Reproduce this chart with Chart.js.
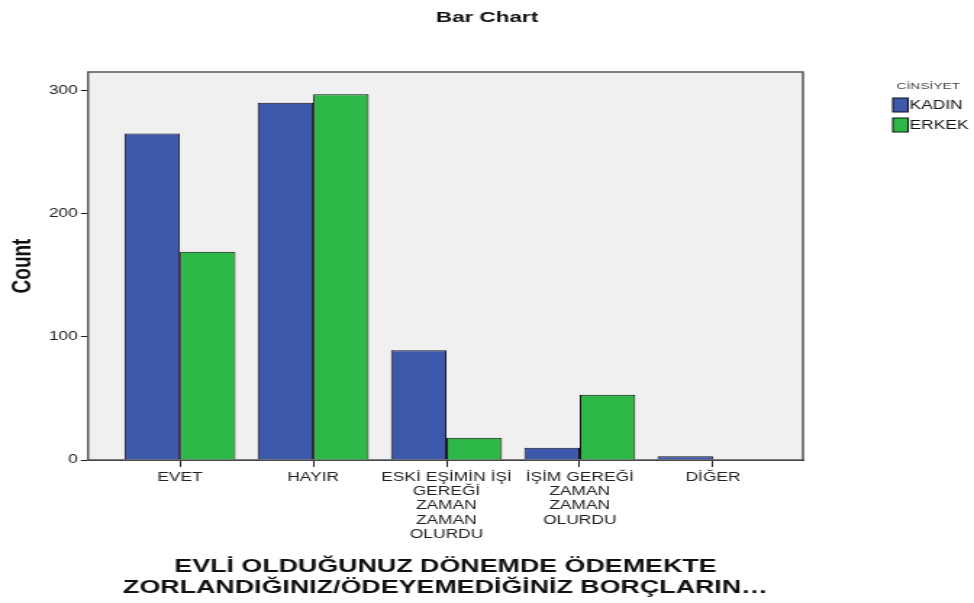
<!DOCTYPE html>
<html>
<head>
<meta charset="utf-8">
<script src="https://cdn.jsdelivr.net/npm/chart.js@4/dist/chart.umd.min.js"></script>
<style>
  html, body { margin: 0; padding: 0; background: #fff; overflow: hidden; }
  /* the reference is stretched sideways, so draw narrow and widen it */
  #wrap { width: 672px; height: 603px; transform: scaleX(1.449405); transform-origin: 0 0; }
  #chart { display: block; }
</style>
</head>
<body>
<div id="wrap"><canvas id="chart" width="672" height="603"></canvas></div>
<script>
// data
const CATEGORIES = [
  'EVET',
  'HAYIR',
  ['ESKİ EŞİMİN İŞİ', 'GEREĞİ', 'ZAMAN', 'ZAMAN', 'OLURDU'],
  ['İŞİM GEREĞİ', 'ZAMAN', 'ZAMAN', 'OLURDU'],
  'DİĞER',
];
const KADIN = [265, 290, 89, 10, 3];
const ERKEK = [169, 297, 18, 53, 0];
const Y_TICKS = [0, 100, 200, 300];
const SERIES_NAMES = ['KADIN', 'ERKEK'];
const LEGEND_TITLE = 'CİNSİYET';
const CHART_TITLE = 'Bar Chart';

const FONT = "'Liberation Sans', Arial, sans-serif";
const BLUE = '#3e58ac';
const GREEN = '#2eb848';

const toPoints = arr => arr.map((v, i) => ({ x: i, y: v }));

/* ---------- title, plot background, frame and legend ---------- */
const plotFrame = {
  id: 'plotFrame',
  beforeDraw(chart) {
    const { ctx, chartArea: a } = chart;
    ctx.save();
    ctx.fillStyle = '#f0f0f0';
    ctx.fillRect(a.left, a.top, a.right - a.left, a.bottom - a.top);
    ctx.restore();
  },
  beforeDatasetsDraw(chart) {
    const { ctx, chartArea: a } = chart;
    ctx.save();
    ctx.strokeStyle = '#555';
    ctx.lineWidth = 1.5;
    ctx.strokeRect(a.left, a.top, a.right - a.left, a.bottom - a.top);
    ctx.restore();
  },
  afterDraw(chart) {
    const ctx = chart.ctx;
    ctx.save();
    // title is centred on the whole picture, not on the plot
    ctx.fillStyle = '#111';
    ctx.font = `bold 15.5px ${FONT}`;
    ctx.textAlign = 'center';
    ctx.textBaseline = 'middle';
    ctx.fillText(CHART_TITLE, chart.width / 2, 18);

    ctx.fillStyle = '#444';
    ctx.font = `9.5px ${FONT}`;
    ctx.fillText(LEGEND_TITLE, 640.5, 86);
    ctx.textAlign = 'left';
    ctx.font = `12px ${FONT}`;
    chart.data.datasets.forEach((ds, i) => {
      const y = 98 + i * 20;
      ctx.fillStyle = ds.backgroundColor;
      ctx.fillRect(616, y, 10.5, 14);
      ctx.strokeStyle = '#111';
      ctx.lineWidth = 1;
      ctx.strokeRect(616, y, 10.5, 14);
      ctx.fillStyle = '#111';
      ctx.fillText(ds.label, 627.5, y + 7.5);
    });
    ctx.restore();
  },
};

new Chart(document.getElementById('chart'), {
  type: 'bar',
  data: {
    datasets: [
      { label: SERIES_NAMES[0], data: toPoints(KADIN), backgroundColor: BLUE, borderColor: '#111', borderWidth: 1 },
      { label: SERIES_NAMES[1], data: toPoints(ERKEK), backgroundColor: GREEN, borderColor: '#111', borderWidth: 1 },
    ],
  },
  options: {
    responsive: false,
    devicePixelRatio: 1,
    animation: false,
    categoryPercentage: 0.833,
    barPercentage: 1,
    layout: { padding: { left: 0, right: 118, top: 72, bottom: 0 } },
    scales: {
      x: {
        type: 'linear',
        offset: false,
        min: -0.69,
        max: 4.675,
        afterBuildTicks: s => { s.ticks = CATEGORIES.map((_, i) => ({ value: i })); },
        afterFit: s => { s.height = 143; },
        ticks: {
          callback: v => CATEGORIES[v],
          autoSkip: false, maxRotation: 0, minRotation: 0,
          color: '#222', padding: 3,
          font: { family: FONT, size: 12, lineHeight: 1.2 },
        },
        grid: { offset: false, drawOnChartArea: false, tickLength: 7, tickColor: '#222', tickWidth: 1 },
        border: { display: true, color: '#222', width: 1 },
        title: {
          display: true,
          text: ['EVLİ OLDUĞUNUZ DÖNEMDE ÖDEMEKTE', 'ZORLANDIĞINIZ/ÖDEYEMEDİĞİNİZ BORÇLARIN…'],
          color: '#111',
          font: { family: FONT, size: 18.5, weight: 'bold', lineHeight: 1.15 },
          padding: { top: 0, bottom: 4.5 },
        },
      },
      y: {
        min: 0,
        max: 315,
        afterBuildTicks: s => { s.ticks = Y_TICKS.map(v => ({ value: v })); },
        afterFit: s => { s.width = 60.7; },
        ticks: { color: '#222', padding: 2, font: { family: FONT, size: 12 } },
        grid: { drawOnChartArea: false, tickLength: 5, tickColor: '#222', tickWidth: 1 },
        border: { display: true, color: '#222', width: 1 },
        title: {
          display: true,
          text: 'Count',
          color: '#111',
          font: { family: FONT, size: 19, weight: 'bold', lineHeight: 1.2 },
          padding: { top: 4, bottom: 0 },
        },
      },
    },
    plugins: {
      legend: { display: false },
      tooltip: { enabled: false },
      title: { display: false },
    },
  },
  plugins: [plotFrame],
});
</script>
</body>
</html>
